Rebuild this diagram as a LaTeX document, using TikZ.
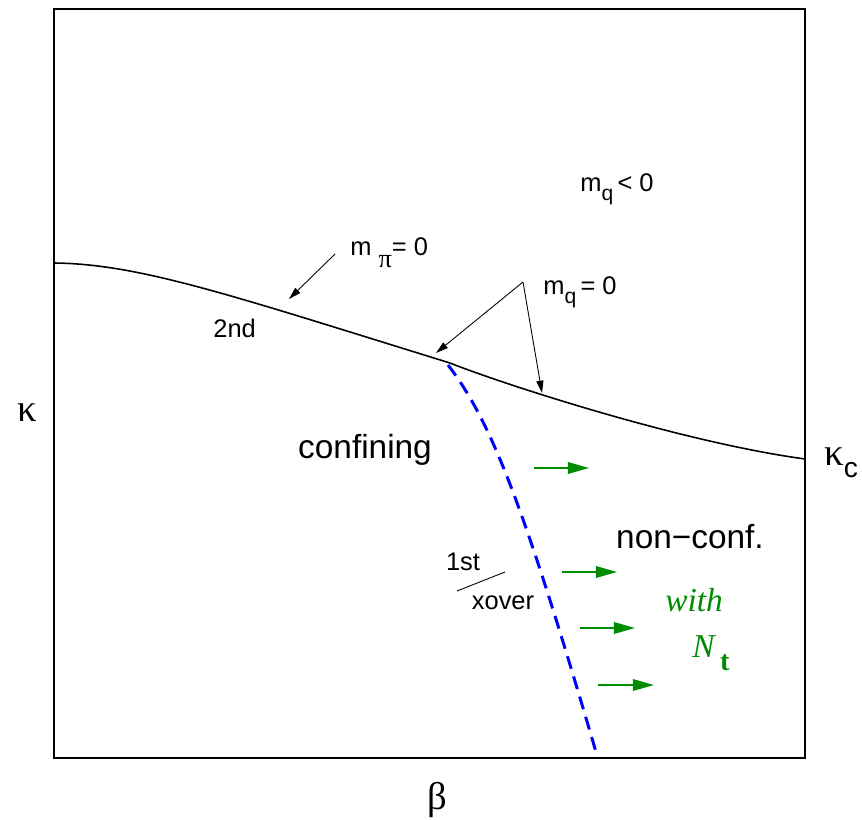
\documentclass[tikz,border=0pt]{standalone}
\usepackage{fontspec}
\setmainfont{Liberation Serif}
\setsansfont{Liberation Sans}
\usetikzlibrary{arrows.meta}

\definecolor{ntgreen}{RGB}{0,140,0}

\tikzset{
  frame/.style={line width=0.8pt},
  trans/.style={line width=0.9pt},
  xoverline/.style={blue, line width=1.7pt, dash pattern=on 7.5pt off 4.5pt},
  pointer/.style={-{Triangle[length=7pt,width=4pt]}, line width=0.5pt},
  ntarrow/.style={-{Triangle[length=12pt,width=6.5pt]}, line width=1.2pt, ntgreen},
  smalltxt/.style={font=\sffamily\fontsize{14.5}{17}\selectfont, inner sep=0pt},
  bigtxt/.style={font=\sffamily\fontsize{19}{22}\selectfont, inner sep=0pt},
  greektxt/.style={font=\fontsize{22}{24}\selectfont, inner sep=0pt},
  greentxt/.style={font=\itshape\fontsize{19}{22}\selectfont, text=ntgreen, inner sep=0pt}
}

\begin{document}
\begin{tikzpicture}[x=0.02cm, y=-0.02cm]
  \useasboundingbox (0,0) rectangle (862,820);
  \draw[frame] (54,9) rectangle (805,758);

  % m_pi = 0 line (2nd order)
  \draw[trans] (54,263) .. controls (140,264) and (230,295) .. (450,363);
  % m_q = 0 line, past the kink
  \draw[trans] (450,363) .. controls (500,383) and (680,442) .. (805,459);

  % 1st order / crossover line
  \draw[xoverline] (448,365) .. controls (492,422) and (525,510) .. (596,752);

  % axis labels
  \node[greektxt] (kappa) at (27,413) {κ};
  \node[greektxt, anchor=base west] (kappac) at (824,466) {κ\raisebox{-0.3em}{\sffamily\fontsize{16}{18}\selectfont c}};
  \node[greektxt] (beta) at (437,800) {β};

  % region labels
  \node[smalltxt, anchor=base west] (mqneg) at (580,192)
    {m\raisebox{-0.35em}{\fontsize{12}{14}\selectfont q}\,< 0};
  \node[smalltxt, anchor=base west] (mpi) at (350,256)
    {m \raisebox{-0.45em}{\rmfamily\fontsize{15}{17}\selectfont π}= 0};
  \node[smalltxt, anchor=base west] (mqzero) at (543,295)
    {m\raisebox{-0.35em}{\fontsize{12}{14}\selectfont q}\,= 0};
  \node[smalltxt, anchor=base west] (second) at (213,338) {2nd};
  \node[bigtxt] (confining) at (365,450) {confining};
  \node[bigtxt] (nonconf) at (690,537) {non−conf.};
  \node[smalltxt] (first) at (463,562) {1st};
  \node[smalltxt] (xover) at (503,603) {xover};
  \node[greentxt, anchor=base west] (with) at (665,611) {with};
  \node[greentxt, anchor=base west] (Nt) at (692,657)
    {N\,\raisebox{-0.4em}{\upshape\bfseries\fontsize{16}{18}\selectfont t}};

  % pointers to the lines
  \coordinate (mpitail) at (335,254);
  \coordinate (mpitip) at (289,299);
  \draw[pointer] (mpitail) -- (mpitip);
  \coordinate (mqvertex) at (523,282);
  \coordinate (mqtipa) at (436,353);
  \coordinate (mqtipb) at (542,393);
  \draw[pointer] (mqvertex) -- (mqtipa);
  \draw[pointer] (mqvertex) -- (mqtipb);

  % tick between 1st and xover
  \coordinate (fxa) at (457,591);
  \coordinate (fxb) at (505,572);
  \draw[line width=0.5pt] (fxa) -- (fxb);

  % N_t arrows
  \coordinate (sa) at (534,468); \coordinate (ea) at (589,468);
  \coordinate (sb) at (562,572); \coordinate (eb) at (617,572);
  \coordinate (sc) at (580,628); \coordinate (ec) at (635,628);
  \coordinate (sd) at (598,685); \coordinate (ed) at (654,685);
  \draw[ntarrow] (sa) -- (ea);
  \draw[ntarrow] (sb) -- (eb);
  \draw[ntarrow] (sc) -- (ec);
  \draw[ntarrow] (sd) -- (ed);
\end{tikzpicture}
\end{document}
